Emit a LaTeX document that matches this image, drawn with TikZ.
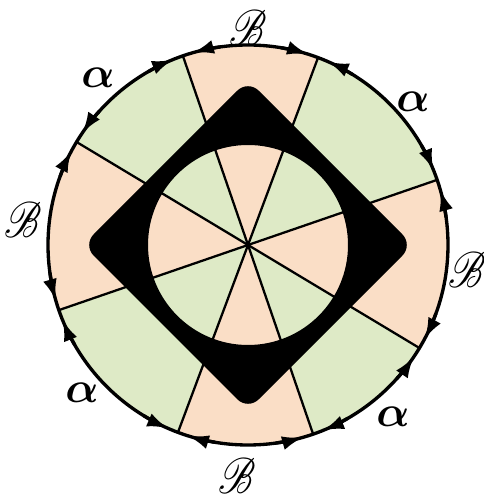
\documentclass[tikz,border=0pt]{standalone}
\usepackage{xcolor}
\usepackage{amsmath,amssymb}
\usepackage{mathrsfs}
\usepackage{tikz}
\usetikzlibrary{arrows.meta}
\definecolor{peach}{RGB}{250,222,198}
\definecolor{leaf}{RGB}{222,234,198}

\begin{document}
\begin{tikzpicture}[>=Latex,rim/.style={line width=1.9pt},spoke/.style={line width=1.3pt},
  tip/.style={-{Latex[length=12pt,width=8pt]},line width=1.9pt},
  lbl/.style={font=\Huge,inner sep=0pt},lblB/.style={font=\Huge,inner sep=0pt,xscale=0.9,yscale=1.15}]
  \useasboundingbox (-4.96,-4.98) rectangle (4.7,4.9);
  % coloured sectors
  \foreach \a/\b/\c in {19/69.5/leaf,69.5/109/peach,109/149/leaf,149/199/peach,
    199/249.5/leaf,249.5/289/peach,289/329/leaf,329/379/peach}
    \fill[\c] (0,0) -- (\a:4) arc (\a:\b:4) -- cycle;
  \foreach \a in {19,69.5,109,149}
    \draw[spoke] (\a:4) -- (\a+180:4);
  % black frame with round hole
  \fill[even odd rule,rounded corners=0.3cm] (0,3.3) -- (3.3,0) -- (0,-3.3) -- (-3.3,0) -- cycle
    (0,0) circle (2);
  \draw[rim] (0,0) circle (4);
  % arrow tips toward each spoke end
  \foreach \a in {19,69.5,109,149,199,249.5,289,329} {
    \draw[tip] (\a+11:4) arc (\a+11:\a+3:4);
    \draw[tip] (\a-11:4) arc (\a-11:\a-3:4);
  }
  \node[lblB] (topB) at (0,4.34) {$\mathscr{B}$};
  \node[lblB] (leftB) at (-4.5,0.5) {$\mathscr{B}$};
  \node[lblB] (rightB) at (4.38,-0.5) {$\mathscr{B}$};
  \node[lblB] (bottomB) at (-0.22,-4.62) {$\mathscr{B}$};
  \node[lbl] (topleftA) at (-3.0,3.34) {$\boldsymbol{\alpha}$};
  \node[lbl] (toprightA) at (3.3,2.86) {$\boldsymbol{\alpha}$};
  \node[lbl] (bottomleftA) at (-3.32,-2.96) {$\boldsymbol{\alpha}$};
  \node[lbl] (bottomrightA) at (2.9,-3.44) {$\boldsymbol{\alpha}$};
\end{tikzpicture}
\end{document}
